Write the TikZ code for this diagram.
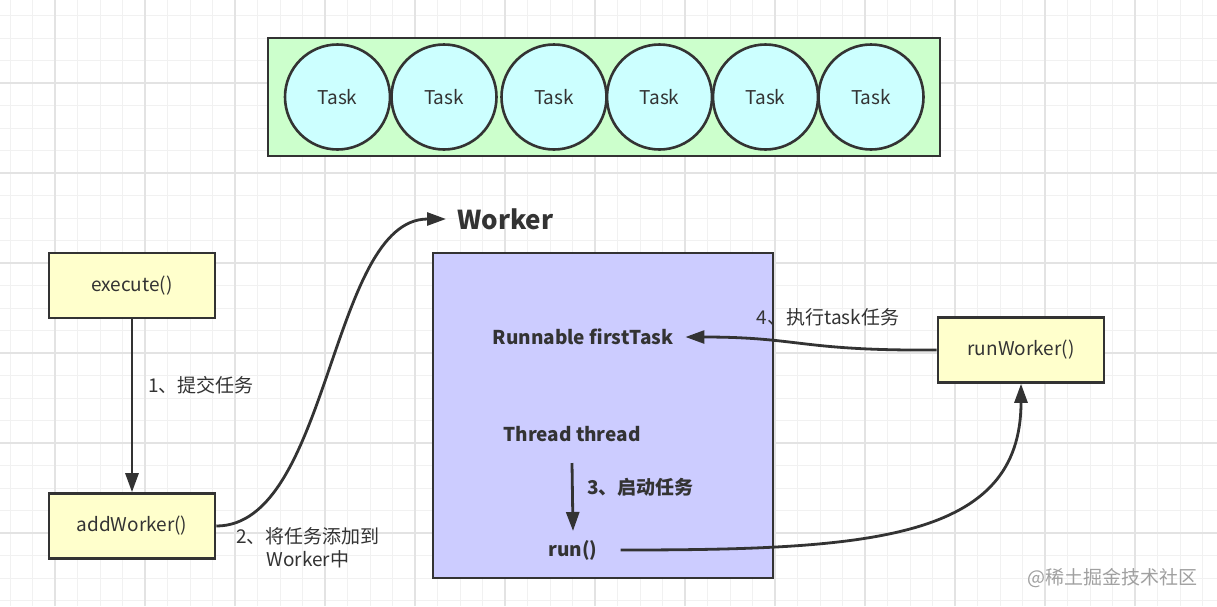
\documentclass[tikz,border=0pt]{standalone}
\usepackage{fontspec}
\setmainfont{Noto Sans CJK SC}
\usetikzlibrary{arrows.meta}
\definecolor{ink}{HTML}{333333}
\definecolor{edge}{HTML}{333333}
\definecolor{yel}{HTML}{FFFFCC}
\definecolor{grn}{HTML}{CCFFCC}
\definecolor{cyn}{HTML}{CCFFFF}
\definecolor{pur}{HTML}{CCCCFF}
\definecolor{gminor}{HTML}{F1F1F1}
\definecolor{gmajor}{HTML}{E3E3E3}
\definecolor{wmark}{HTML}{A0A0A0}
\begin{document}
\begin{tikzpicture}[x=1pt,y=-1pt,
  txt/.style={text=ink,font=\fontsize{19}{23}\selectfont,inner sep=2pt},
  btxt/.style={text=ink,font=\fontsize{19}{23}\selectfont\bfseries,inner sep=2pt},
  ybox/.style={draw=edge,line width=2.6pt,fill=yel,minimum width=166pt,minimum height=65pt,inner sep=0pt,text=ink,font=\fontsize{19}{23}\selectfont},
  taskc/.style={circle,draw=edge,line width=2.6pt,fill=cyn,minimum size=105pt,inner sep=0pt,text=ink,font=\fontsize{19}{23}\selectfont},
  arr/.style={draw=edge,line width=2.8pt,-{Triangle[length=19pt,width=13pt]}},
  minorln/.style={draw=gminor,line width=1pt},
  majorln/.style={draw=gmajor,line width=1.2pt}]
\useasboundingbox (0,0) rectangle (1217,606);
\fill[white] (0,0) rectangle (1217,606);
% grid
\foreach \k in {0,...,53} {\draw[minorln] (10+22.5*\k,0) -- (10+22.5*\k,606);}
\foreach \k in {-1,...,26} {\draw[minorln] (0,15.5+22.5*\k) -- (1217,15.5+22.5*\k);}
\foreach \k in {0,...,13} {\draw[majorln] (55+90*\k,0) -- (55+90*\k,606);}
\foreach \k in {0,...,6} {\draw[majorln] (0,83+90*\k) -- (1217,83+90*\k);}
% task queue
\node[draw=edge,line width=2.6pt,fill=grn,minimum width=672pt,minimum height=118pt,inner sep=0pt] (queue) at (604,97) {};
\node[taskc] (t1) at (337.5,97) {Task};
\node[taskc] (t2) at (444,97) {Task};
\node[taskc] (t3) at (554,97) {Task};
\node[taskc] (t4) at (659.5,97) {Task};
\node[taskc] (t5) at (765.5,97) {Task};
\node[taskc] (t6) at (871,97) {Task};
% left boxes
\node[ybox] (exec) at (132,285.5) {execute()};
\node[ybox] (addw) at (132,526) {addWorker()};
\node[ybox] (rw) at (1021,350) {runWorker()};
% worker box
\node[draw=edge,line width=2.6pt,fill=pur,minimum width=340pt,minimum height=325pt,inner sep=0pt] (wbox) at (603,415.5) {};
\node[text=ink,font=\fontsize{26}{30}\selectfont\bfseries,anchor=west,inner xsep=11pt,inner ysep=2pt] (wk) at (446,219) {Worker};
\node[btxt,inner xsep=12pt] (rft) at (583,337) {Runnable firstTask};
\node[btxt] (thr) at (572,434) {Thread thread};
\node[btxt,inner xsep=23pt] (run) at (573,550) {run()};
% labels
\node[txt,anchor=west] (l1) at (146,385) {1、提交任务};
\node[txt,align=center] (l2) at (308,547.5) {2、将任务添加到\\Worker中};
\node[btxt,anchor=west] (l3) at (585,487) {3、启动任务};
\node[txt] (l4) at (828,317) {4、执行task任务};
\node[text=wmark,font=\fontsize{19}{23}\selectfont,anchor=east,inner sep=0pt] (wm) at (1198,578) {@稀土掘金技术社区};
% connectors
\draw[arr] (exec.south) -- (addw.north);
\draw[arr] (addw.east) .. controls (330,526) and (330,219) .. (wk.west);
\draw[arr] (rw.west) .. controls (800,351) and (800,337) .. (rft.east);
\draw[arr] ([yshift=-29pt]thr.center) -- ([yshift=19pt]run.center);
\draw[arr] (run.east) .. controls (870,550) and (1021,540) .. (rw.south);
\end{tikzpicture}
\end{document}
